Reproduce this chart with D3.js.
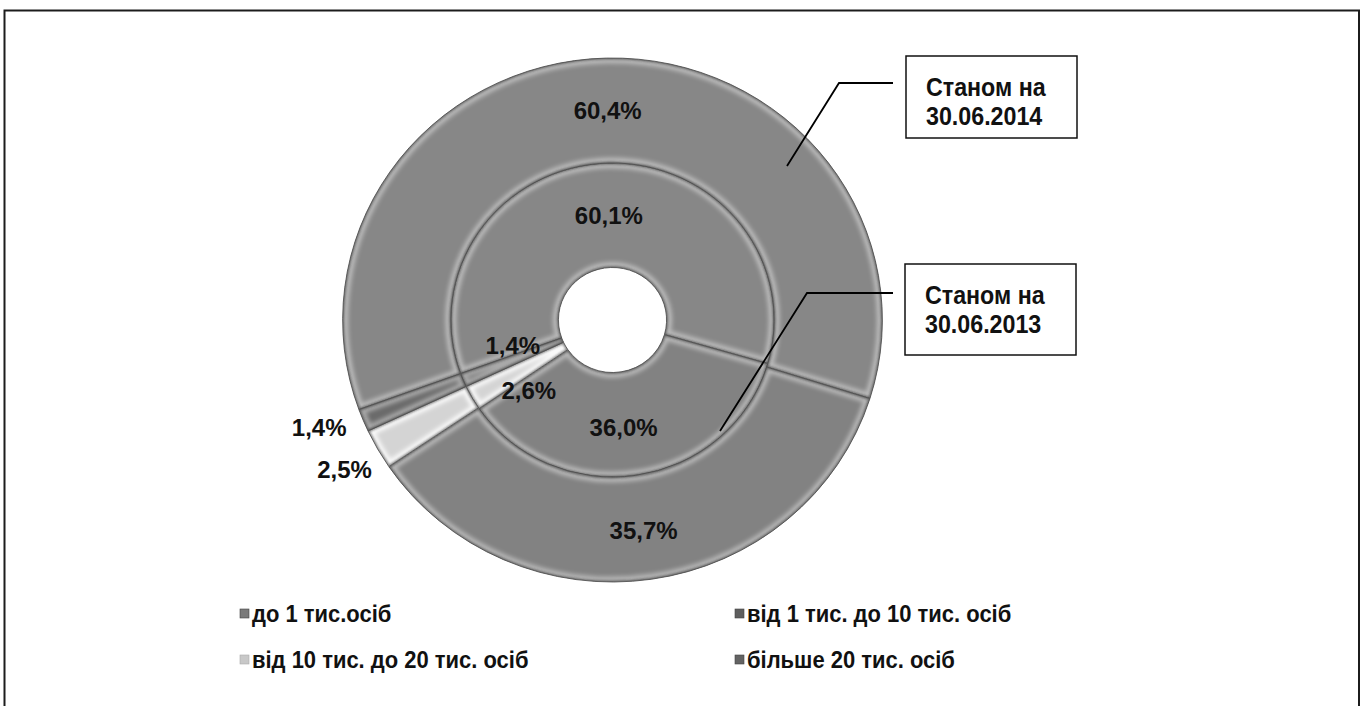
<!DOCTYPE html>
<html>
<head>
<meta charset="utf-8">
<script src="https://cdn.jsdelivr.net/npm/d3@7"></script>
<style>
  html, body { margin: 0; padding: 0; background: #fff; }
  svg { display: block; }
</style>
</head>
<body>
<svg id="chart" width="1365" height="706"></svg>
<script>
// Settlement size groups and their shares (%) on two dates
const categories = ["до 1 тис.осіб", "від 1 тис. до 10 тис. осіб", "від 10 тис. до 20 тис. осіб", "більше 20 тис. осіб"];
const share2013 = [60.1, 36.0, 2.6, 1.4];   // inner ring
const share2014 = [60.4, 35.7, 2.5, 1.4];   // outer ring
const calloutLines2014 = ["Станом на", "30.06.2014"];
const calloutLines2013 = ["Станом на", "30.06.2013"];

// Slice greys, one per size group
const fills = ["#878787", "#828282", "#d4d4d4", "#6a6a6a"];
const markerFills = ["#7a7a7a", "#5e5e5e", "#c8c8c8", "#636363"];

const svg = d3.select("#chart");
const W = 1365, H = 706;
const cx = 612.5, cy = 320, sx = 1.03;
const rHole = 52.5, rMid = 157, rOuter = 262;
const startDeg = 250;

const fmt = d3.formatLocale({decimal: ",", thousands: " ", grouping: [3], currency: ["", ""]}).format(".1f");

// frame
svg.append("rect")
  .attr("x", 4.5).attr("y", 10.5)
  .attr("width", 1354.5).attr("height", H + 20)
  .attr("fill", "none").attr("stroke", "#1c1c1c").attr("stroke-width", 2);

const defs = svg.append("defs");
defs.append("filter").attr("id", "soft").attr("x", "-20%").attr("y", "-20%").attr("width", "140%").attr("height", "140%")
  .append("feGaussianBlur").attr("stdDeviation", 2.2);
defs.append("filter").attr("id", "softer").attr("x", "-20%").attr("y", "-20%").attr("width", "140%").attr("height", "140%")
  .append("feGaussianBlur").attr("stdDeviation", 1.2);

const pie = d3.pie().sort(null).value(d => d)
  .startAngle(startDeg * Math.PI / 180)
  .endAngle((startDeg + 360) * Math.PI / 180);

const rings = [
  {values: share2013, r0: rHole, r1: rMid, key: "in"},
  {values: share2014, r0: rMid, r1: rOuter, key: "out"}
];

const g = svg.append("g").attr("transform", `translate(${cx},${cy}) scale(${sx},1)`);

rings.forEach(ring => {
  const arc = d3.arc().innerRadius(ring.r0).outerRadius(ring.r1);
  ring.arc = arc;
  ring.arcs = pie(ring.values);
  ring.arcs.forEach((a, i) => {
    const id = `clip-${ring.key}-${i}`;
    defs.append("clipPath").attr("id", id).append("path").attr("d", arc(a));
    const sg = g.append("g");
    sg.append("path").attr("d", arc(a)).attr("fill", fills[i]);
    // raised rim: soft light band along every edge, kept inside the slice
    sg.append("path").attr("d", arc(a))
      .attr("fill", "none").attr("stroke", "#ffffff")
      .attr("stroke-width", 11).attr("stroke-opacity", i === 2 ? 0.85 : 0.42)
      .attr("filter", "url(#soft)")
      .attr("clip-path", `url(#${id})`);
    sg.append("path").attr("d", arc(a))
      .attr("fill", "none").attr("stroke", "#333")
      .attr("stroke-width", 3).attr("stroke-opacity", 0.6)
      .attr("filter", "url(#softer)")
      .attr("clip-path", `url(#${id})`);
    sg.append("path").attr("d", arc(a))
      .attr("fill", "none").attr("stroke", "#4a4a4a").attr("stroke-width", 0.8);
  });
});

// value labels
const labelFont = "'Liberation Sans', Arial, sans-serif";
const nudges = {
  "in":  [[0, 0], [-6, 4], [10, 19], [0, -15]],
  "out": [[0, 0], [0, 3], null, null]
};
const outsideR = 303;
const outsideNudge = [null, null, [3.5, 0], [-5, -9]];

rings.forEach(ring => {
  ring.arcs.forEach((a, i) => {
    let x, y;
    const nd = nudges[ring.key][i];
    if (nd) {
      const c = ring.arc.centroid(a);
      x = cx + c[0] * sx + nd[0];
      y = cy + c[1] + nd[1];
    } else {
      const c = d3.arc().innerRadius(outsideR).outerRadius(outsideR).centroid(a);
      x = cx + c[0] * sx + outsideNudge[i][0];
      y = cy + c[1] + outsideNudge[i][1];
    }
    svg.append("text")
      .attr("x", x).attr("y", y)
      .attr("text-anchor", "middle").attr("dominant-baseline", "central")
      .attr("font-family", labelFont).attr("font-weight", "bold")
      .attr("font-size", 24).attr("fill", "#111")
      .text(fmt(ring.values[i]) + "%");
  });
});

// condensed bold text: regular bold face squeezed horizontally
function narrowText(x, y, size, squeeze, str, baseline) {
  return svg.append("text")
    .attr("transform", `translate(${x},${y}) scale(${squeeze},1)`)
    .attr("dominant-baseline", baseline || "auto")
    .attr("font-family", labelFont).attr("font-weight", "bold")
    .attr("font-size", size).attr("fill", "#111")
    .text(str);
}

// callouts
function callout(box, linePts, lines) {
  svg.append("polyline")
    .attr("points", linePts.map(p => p.join(",")).join(" "))
    .attr("fill", "none").attr("stroke", "#000").attr("stroke-width", 1.8);
  svg.append("rect")
    .attr("x", box.x).attr("y", box.y).attr("width", box.w).attr("height", box.h)
    .attr("fill", "#fff").attr("stroke", "#111").attr("stroke-width", 1.5);
  lines.forEach((t, k) => narrowText(box.x + 20, box.y + 40 + k * 29, 25, 0.93, t));
}
callout({x: 906, y: 56, w: 171, h: 82}, [[893, 83], [839, 83], [787, 166]], calloutLines2014);
callout({x: 905, y: 264, w: 171, h: 91}, [[893, 293], [807, 293], [720, 431]], calloutLines2013);

// legend
const legendPos = [[240, 614], [735, 614], [240, 660], [735, 660]];
categories.forEach((c, i) => {
  const [lx, ly] = legendPos[i];
  svg.append("rect")
    .attr("x", lx).attr("y", ly - 5).attr("width", 9).attr("height", 9)
    .attr("fill", markerFills[i]).attr("stroke", i === 2 ? "#aaa" : "#444").attr("stroke-width", 0.6);
  narrowText(lx + 12, ly, 24, 0.915, c, "central");
});
</script>
</body>
</html>
